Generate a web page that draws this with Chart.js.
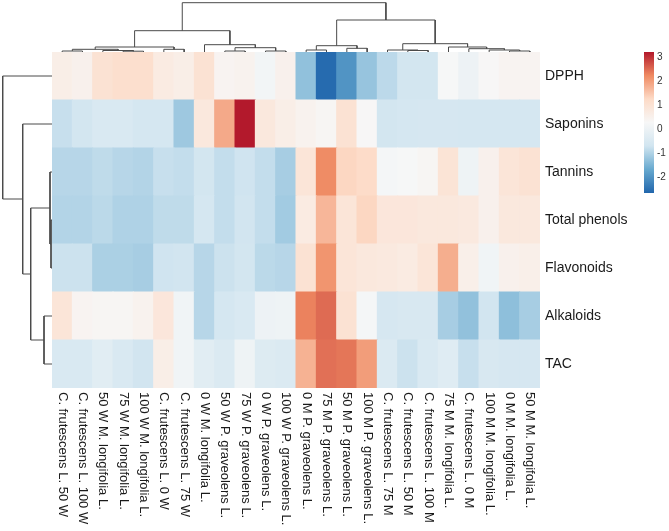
<!DOCTYPE html>
<html>
<head>
<meta charset="utf-8">
<script src="https://cdn.jsdelivr.net/npm/chart.js@4.4.0/dist/chart.umd.min.js"></script>
<style>
html,body{margin:0;padding:0;background:#fff;}
#wrap{position:relative;width:669px;height:531px;overflow:hidden;}
canvas{position:absolute;}
</style>
</head>
<body>
<div id="wrap">
<canvas id="heat" width="669" height="531" style="left:0;top:0"></canvas>
<canvas id="dendTop" width="488" height="52" style="left:52px;top:0"></canvas>
<canvas id="dendLeft" width="52" height="336" style="left:0;top:52px"></canvas>
<canvas id="colorKey" width="27" height="141" style="left:644px;top:52px"></canvas>
</div>
<script>
// columns, in dendrogram order
var colNames = [
  'C. frutescens L. 50 W', 'C. frutescens L. 100 W', '50 W M. longifolia L.', '75 W M. longifolia L.',
  '100 W M. longifolia L.', 'C. frutescens L. 0 W', 'C. frutescens L. 75 W', '0 W M. longifolia L.',
  '50 W P. graveolens L.', '75 W P. graveolens L.', '0 W P. graveolens L.', '100 W P. graveolens L.',
  '0 M P. graveolens L.', '75 M P. graveolens L.', '50 M P. graveolens L.', '100 M P. graveolens L.',
  'C. frutescens L. 75 M', 'C. frutescens L. 50 M', 'C. frutescens L. 100 M', '75 M M. longifolia L.',
  'C. frutescens L. 0 M', '100 M M. longifolia L.', '0 M M. longifolia L.', '50 M M. longifolia L.'
];
var rowNames = ['DPPH', 'Saponins', 'Tannins', 'Total phenols', 'Flavonoids', 'Alkaloids', 'TAC'];

// scaled values (z-scores) per row
var dpph         = [0.6, 0.5, 1.0, 1.1, 1.1, 0.7, 0.6, 1.0, 0.4, 0.45, 0.15, 0.5, -1.3, -2.6, -2.0, -1.25, -0.9, -0.65, -0.65, 0.25, 0.0, 0.3, 0.4, 0.4];
var saponins     = [-0.8, -0.65, -0.5, -0.5, -0.61, -0.61, -1.18, 0.8, 1.85, 3.2, 0.8, 0.6, 0.45, 0.35, 1.0, 0.3, -0.65, -0.61, -0.58, -0.58, -0.61, -0.61, -0.61, -0.61];
var tannins      = [-0.95, -0.95, -0.88, -0.95, -0.99, -0.8, -0.84, -0.65, -0.84, -0.72, -0.84, -1.1, 0.9, 2.2, 1.3, 1.2, 0.2, 0.25, 0.35, 0.95, 0.05, 0.5, 0.9, 1.0];
var totalPhenols = [-0.99, -0.99, -0.91, -1.02, -1.02, -0.88, -0.88, -0.61, -0.84, -0.69, -0.84, -1.14, 0.7, 1.7, 0.9, 1.3, 0.85, 0.85, 0.8, 0.8, 0.75, 0.5, 0.8, 0.8];
var flavonoids   = [-0.76, -0.76, -1.06, -1.06, -1.1, -0.72, -0.69, -0.95, -0.76, -0.65, -0.91, -0.95, 1.0, 2.1, 0.9, 0.8, 0.75, 0.7, 0.9, 1.8, 0.55, 0.1, 0.5, 0.55];
var alkaloids    = [0.9, 0.4, 0.35, 0.35, 0.45, 0.85, 0.1, -0.95, -0.61, -0.5, 0.0, 0.05, 2.3, 2.5, 1.0, 0.2, -0.58, -0.54, -0.54, -1.1, -1.29, -0.69, -1.33, -1.1];
var tac          = [-0.5, -0.5, -0.3, -0.5, -0.69, 0.6, 0.1, -0.3, -0.45, 0.05, -0.4, -0.45, 1.75, 2.45, 2.4, 2.0, -0.45, -0.76, -0.5, -0.35, -0.8, -0.54, -0.58, -0.58];
var rowValues = [dpph, saponins, tannins, totalPhenols, flavonoids, alkaloids, tac];

// colour key
var keyMin = -2.67, keyMax = 3.21;
var keyTicks = [-2, -1, 0, 1, 2, 3];
var palette = ['#2166AC', '#67A9CF', '#D1E5F0', '#F7F7F7', '#FDDBC7', '#EF8A62', '#B2182B'];

// hclust style merges: negative = leaf (1-based), positive = earlier merge; [a, b, height]
var colMerge = [
  [-4, -5, 0.8], [-1, -2, 1.0], [-9, -10, 1.0], [-11, -12, 1.0], [-23, -24, 1.0],
  [-3, 1, 1.5], [-18, -19, 1.5], [-13, -14, 2.0], [-17, 7, 2.0], [-22, 5, 2.0],
  [2, 6, 2.7], [-6, -7, 2.7], [-21, 10, 3.3], [-15, -16, 3.7], [3, 4, 4.3],
  [-20, 13, 5.0], [11, 12, 5.0], [8, 14, 6.3], [-8, 15, 7.3], [9, 16, 8.3],
  [17, 19, 21.3], [18, 20, 32], [21, 22, 49.3]
];
var rowMerge = [
  [-4, -5, 1.0], [-3, 1, 2.0], [-6, -7, 8.0], [2, 3, 21.3], [-2, 4, 29.3], [-1, 5, 49.3]
];

function hexRgb(h) {
  return [parseInt(h.substr(1, 2), 16), parseInt(h.substr(3, 2), 16), parseInt(h.substr(5, 2), 16)];
}
function valueColor(v) {
  var t = (v - keyMin) / (keyMax - keyMin);
  t = Math.max(0, Math.min(1, t)) * (palette.length - 1);
  var i = Math.min(Math.floor(t), palette.length - 2);
  var f = t - i;
  var a = hexRgb(palette[i]), b = hexRgb(palette[i + 1]);
  return 'rgb(' + [0, 1, 2].map(function (k) { return Math.round(a[k] + (b[k] - a[k]) * f); }).join(',') + ')';
}

// U shaped links of a dendrogram
function dendroSegments(merge) {
  var pos = [], hgt = [], segs = [];
  function node(id) {
    return id < 0 ? { p: -id - 1, h: 0 } : { p: pos[id - 1], h: hgt[id - 1] };
  }
  merge.forEach(function (m, k) {
    var a = node(m[0]), b = node(m[1]);
    segs.push([{ p: a.p, h: a.h }, { p: a.p, h: m[2] }, { p: b.p, h: m[2] }, { p: b.p, h: b.h }]);
    pos[k] = (a.p + b.p) / 2;
    hgt[k] = m[2];
  });
  return segs;
}

var baseOpts = {
  responsive: false,
  animation: false,
  events: [],
  plugins: { legend: { display: false }, tooltip: { enabled: false } }
};
function opts(extra) {
  return Object.assign({}, baseOpts, extra);
}

// heatmap, stacked unit bars coloured by value
var heatSets = [];
for (var r = rowNames.length - 1; r >= 0; r--) {
  heatSets.push({
    label: rowNames[r],
    data: rowValues[r].map(function () { return 1; }),
    backgroundColor: rowValues[r].map(valueColor),
    borderWidth: 0,
    inflateAmount: 0.5,
    barPercentage: 1,
    categoryPercentage: 1
  });
}

var heatLabels = {
  id: 'heatLabels',
  afterDraw: function (chart) {
    var c = chart.ctx, xs = chart.scales.x, ys = chart.scales.y, area = chart.chartArea;
    c.save();
    c.fillStyle = '#1a1a1a';
    c.textBaseline = 'middle';
    c.textAlign = 'left';
    c.font = '13px "Liberation Sans", Arial, sans-serif';
    colNames.forEach(function (name, i) {
      c.save();
      c.translate(xs.getPixelForValue(i), area.bottom + 4);
      c.rotate(Math.PI / 2);
      c.fillText(name, 0, 0);
      c.restore();
    });
    c.font = '14px "Liberation Sans", Arial, sans-serif';
    rowNames.forEach(function (name, k) {
      c.fillText(name, area.right + 5, ys.getPixelForValue(rowNames.length - k - 0.5));
    });
    c.restore();
  }
};

new Chart('heat', {
  type: 'bar',
  data: { labels: colNames, datasets: heatSets },
  options: opts({
    layout: { padding: { left: 52, top: 52, right: 129, bottom: 143 } },
    scales: {
      x: { display: false, stacked: true },
      y: { display: false, stacked: true, min: 0, max: rowNames.length }
    }
  }),
  plugins: [heatLabels]
});

function lineSets(segs, flip) {
  return segs.map(function (s) {
    return {
      data: s.map(function (pt) { return flip ? { x: pt.h, y: pt.p } : { x: pt.p, y: pt.h }; }),
      showLine: true,
      borderColor: '#4a4a4a',
      borderWidth: 1,
      pointRadius: 0,
      clip: false
    };
  });
}

new Chart('dendTop', {
  type: 'scatter',
  data: { datasets: lineSets(dendroSegments(colMerge), false) },
  options: opts({
    scales: {
      x: { type: 'linear', display: false, min: -0.5, max: colNames.length - 0.5 },
      y: { type: 'linear', display: false, min: 0, max: 52 }
    }
  })
});

new Chart('dendLeft', {
  type: 'scatter',
  data: { datasets: lineSets(dendroSegments(rowMerge), true) },
  options: opts({
    scales: {
      x: { type: 'linear', display: false, min: 0, max: 52, reverse: true },
      y: { type: 'linear', display: false, min: -0.5, max: rowNames.length - 0.5, reverse: true }
    }
  })
});

var keyLabels = {
  id: 'keyLabels',
  afterDraw: function (chart) {
    var c = chart.ctx, ys = chart.scales.y, area = chart.chartArea;
    c.save();
    c.fillStyle = '#333';
    c.font = '10px "Liberation Sans", Arial, sans-serif';
    c.textBaseline = 'middle';
    c.textAlign = 'left';
    keyTicks.forEach(function (t) {
      c.fillText(String(t), area.right + 3, ys.getPixelForValue(t));
    });
    c.restore();
  }
};

new Chart('colorKey', {
  type: 'bar',
  data: {
    labels: [''],
    datasets: [{
      data: [[keyMin, keyMax]],
      backgroundColor: function (ctx) {
        var ch = ctx.chart, ys = ch.scales.y;
        var y0 = ys ? ys.getPixelForValue(keyMin) : NaN, y1 = ys ? ys.getPixelForValue(keyMax) : NaN;
        if (!ch.chartArea || !isFinite(y0) || !isFinite(y1)) return palette[3];
        var g = ch.ctx.createLinearGradient(0, y0, 0, y1);
        palette.forEach(function (col, i) { g.addColorStop(i / (palette.length - 1), col); });
        return g;
      },
      borderWidth: 0,
      barPercentage: 1,
      categoryPercentage: 1
    }]
  },
  options: opts({
    layout: { padding: { right: 17 } },
    scales: {
      x: { display: false },
      y: { display: false, min: keyMin, max: keyMax }
    }
  }),
  plugins: [keyLabels]
});
</script>
</body>
</html>
